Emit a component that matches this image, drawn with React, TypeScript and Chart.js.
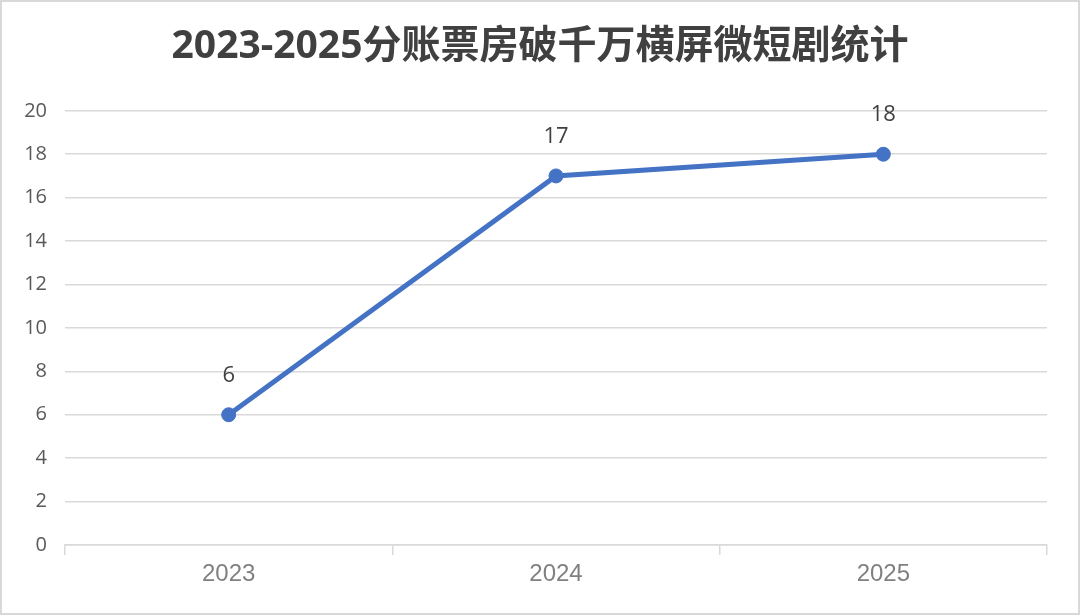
import React, { useEffect, useRef } from "react";
import { Chart, registerables } from "chart.js";

Chart.register(...registerables);

const titleText = "2023-2025分账票房破千万横屏微短剧统计";
const categories = ["2023", "2024", "2025"];
const counts = [6, 17, 18];
const yTicks = [0, 2, 4, 6, 8, 10, 12, 14, 16, 18, 20];

const FONT = '"Open Sans", "Noto Sans CJK SC", sans-serif';

const valueLabels = {
  id: "valueLabels",
  afterDatasetsDraw(chart: any) {
    const ctx = chart.ctx;
    const meta = chart.getDatasetMeta(0);
    ctx.save();
    ctx.font = `22px ${FONT}`;
    ctx.fillStyle = "#404040";
    ctx.textAlign = "center";
    ctx.textBaseline = "middle";
    meta.data.forEach((pt: any, i: number) => {
      ctx.fillText(String(counts[i]), pt.x, pt.y - 39);
    });
    ctx.restore();
  },
};

export default function App() {
  const ref = useRef<HTMLCanvasElement>(null);
  useEffect(() => {
    document.body.style.margin = "0";
    const chart = new Chart(ref.current!, {
      type: "line",
      data: {
        labels: categories,
        datasets: [
          {
            data: counts,
            borderColor: "#4472C4",
            backgroundColor: "#4472C4",
            borderWidth: 5,
            pointRadius: 7,
            pointBackgroundColor: "#4472C4",
            pointBorderColor: "#4472C4",
            pointBorderWidth: 1,
            tension: 0,
            yAxisID: "y",
          },
        ],
      },
      options: {
        animation: false,
        responsive: false,
        layout: { padding: { left: 0, right: 0, top: 0, bottom: 0 } },
        plugins: {
          legend: { display: false },
          tooltip: { enabled: false },
          title: {
            display: true,
            text: titleText,
            color: "#404040",
            font: { family: FONT, size: 39, weight: "bold" },
            padding: { top: 23, bottom: 41 },
          },
        },
        scales: {
          x: {
            offset: true,
            grid: {
              offset: true,
              drawOnChartArea: false,
              drawTicks: true,
              tickLength: 10,
              color: "#d9d9d9",
              lineWidth: 1.5,
            },
            border: { color: "#d9d9d9", width: 1.5 },
            ticks: {
              color: "#808080",
              font: { family: '"Liberation Sans", Arial, sans-serif', size: 24 },
              padding: 5,
            },
            afterFit(s: any) {
              s.height = 70;
            },
          },
          y: {
            min: 0,
            max: 20,
            afterBuildTicks(s: any) {
              s.ticks = yTicks.map((v) => ({ value: v }));
            },
            grid: { color: "#d9d9d9", lineWidth: 1.5, drawTicks: false },
            border: { display: false },
            ticks: {
              color: "#595959",
              font: { family: FONT, size: 20 },
              padding: 18,
            },
            afterFit(s: any) {
              s.width = 65;
            },
          },
          yRight: {
            position: "right",
            min: 0,
            max: 20,
            grid: { drawOnChartArea: false, drawTicks: false },
            border: { display: false },
            ticks: { display: false },
            afterFit(s: any) {
              s.width = 33;
            },
          },
        },
      },
      plugins: [valueLabels],
    });
    return () => chart.destroy();
  }, []);
  return (
    <div style={{ position: "relative", width: 1080, height: 615, background: "#fff" }}>
      <canvas ref={ref} width={1080} height={615} style={{ position: "absolute", left: 0, top: 0 }} />
      <div
        style={{
          position: "absolute",
          left: 0,
          top: 0,
          width: 1080,
          height: 615,
          boxSizing: "border-box",
          border: "2px solid #d9d9d9",
          pointerEvents: "none",
        }}
      />
    </div>
  );
}
